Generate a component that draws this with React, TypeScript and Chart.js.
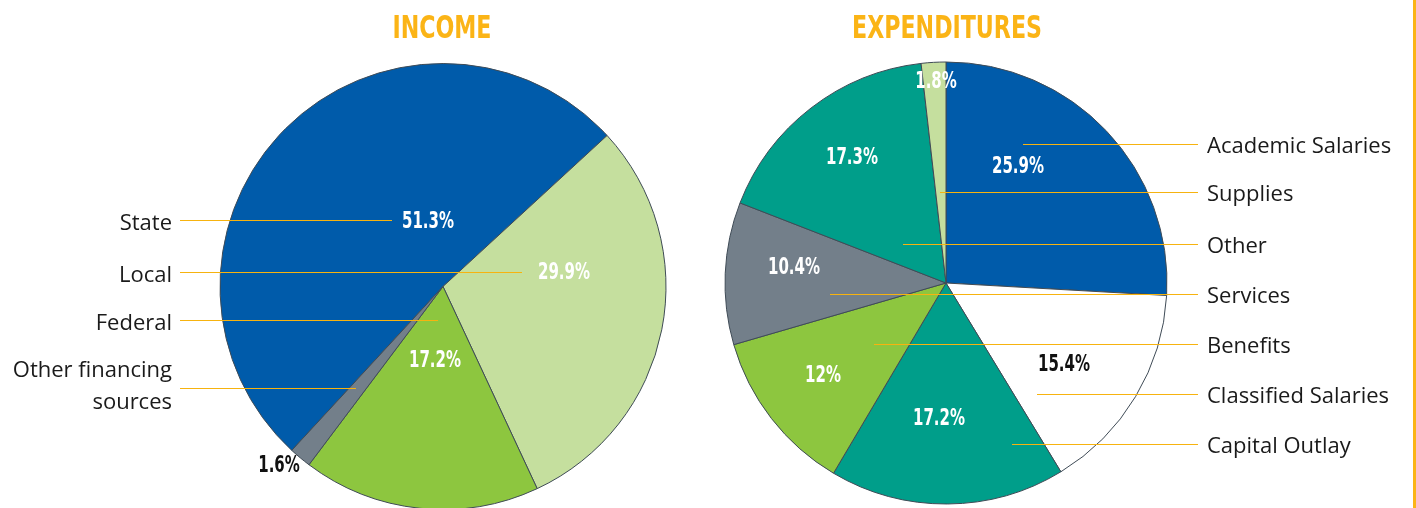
import React, { useEffect, useRef } from 'react';
import { Chart, registerables } from 'chart.js';

Chart.register(...registerables);

// ---------- DATA ----------
const incomeCategories = ['State', 'Local', 'Federal', 'Other financing sources'];
const incomeValues = [51.3, 29.9, 17.2, 1.6];
const incomePctLabels = ['51.3%', '29.9%', '17.2%', '1.6%'];

const expenditureCategories = [
  'Academic Salaries',
  'Classified Salaries',
  'Capital Outlay',
  'Benefits',
  'Services',
  'Other',
  'Supplies',
];
const expenditureValues = [25.9, 15.4, 17.2, 12, 10.4, 17.3, 1.8];
const expenditurePctLabels = ['25.9%', '15.4%', '17.2%', '12%', '10.4%', '17.3%', '1.8%'];

// ---------- STYLE / LAYOUT ----------
const W = 1416;
const H = 508;
const HALF = 708;
const BLUE = '#005BAA';
const LIGHT = '#C5DF9E';
const GREEN = '#8DC63F';
const GRAY = '#737F8A';
const TEAL = '#009E8A';
const WHITE = '#FFFFFF';
const GOLD = '#FBB416';
const LINE_GOLD = '#F7B30F';
const BORDER = '#3F4B56';

const incomeColors = [BLUE, LIGHT, GREEN, GRAY];
const expenditureColors = [BLUE, WHITE, TEAL, GREEN, GRAY, TEAL, LIGHT];

const COND = "'Liberation Sans Narrow', 'DejaVu Sans Condensed', 'DejaVu Sans', sans-serif";
const PCT_FONT = `bold 23px ${COND}`;
const TITLE_FONT = `bold 32px ${COND}`;
const CAT_FONT = "22px 'Open Sans', 'Noto Sans', sans-serif";

type Layout = {
  title: string;
  titleX: number; // absolute page x
  pct: { dx: number; dy: number; color: string }[];
  lines: { lines: string[]; y: number; endDx: number }[];
  side: 'left' | 'right';
  originX: number; // page x of this canvas's left edge
};

const incomeLayout: Layout = {
  title: 'INCOME',
  titleX: 442,
  pct: [
    { dx: -15, dy: -65, color: '#FFFFFF' },
    { dx: 121, dy: -14, color: '#FFFFFF' },
    { dx: -8, dy: 74, color: '#FFFFFF' },
    { dx: -164, dy: 179, color: '#111111' },
  ],
  lines: [
    { lines: ['State'], y: 220, endDx: -51 },
    { lines: ['Local'], y: 272, endDx: 79 },
    { lines: ['Federal'], y: 320, endDx: -5 },
    { lines: ['Other financing', 'sources'], y: 388, endDx: -87 },
  ],
  side: 'left',
  originX: 0,
};

const expenditureLayout: Layout = {
  title: 'EXPENDITURES',
  titleX: 947,
  pct: [
    { dx: 72, dy: -117, color: '#FFFFFF' },
    { dx: 118, dy: 81, color: '#111111' },
    { dx: -7, dy: 135, color: '#FFFFFF' },
    { dx: -123, dy: 92, color: '#FFFFFF' },
    { dx: -152, dy: -16, color: '#FFFFFF' },
    { dx: -94, dy: -126, color: '#FFFFFF' },
    { dx: -10, dy: -201.5, color: '#FFFFFF' },
  ],
  lines: [
    { lines: ['Academic Salaries'], y: 144, endDx: 77 },
    { lines: ['Supplies'], y: 192, endDx: -6 },
    { lines: ['Other'], y: 244, endDx: -43 },
    { lines: ['Services'], y: 294, endDx: -116 },
    { lines: ['Benefits'], y: 344, endDx: -72 },
    { lines: ['Classified Salaries'], y: 394, endDx: 91 },
    { lines: ['Capital Outlay'], y: 444, endDx: 66 },
  ],
  side: 'right',
  originX: HALF,
};

function drawScaled(
  ctx: CanvasRenderingContext2D,
  text: string,
  x: number,
  y: number,
  sx: number,
) {
  ctx.save();
  ctx.translate(x, y);
  ctx.scale(sx, 1);
  ctx.fillText(text, 0, 0);
  ctx.restore();
}

function makePlugin(layout: Layout, pctLabels: string[], drawEdge: boolean) {
  return {
    id: 'customLabels',
    afterDatasetsDraw(chart: any) {
      const ctx: CanvasRenderingContext2D = chart.ctx;
      const arc = chart.getDatasetMeta(0).data[0];
      const cx = arc.x;
      const cy = arc.y;
      const ox = layout.originX;
      ctx.save();

      // title (condensed by horizontal scaling)
      ctx.font = TITLE_FONT;
      ctx.fillStyle = GOLD;
      ctx.textAlign = 'center';
      ctx.textBaseline = 'alphabetic';
      const titleScale = 99 / ctx.measureText('INCOME').width;
      drawScaled(ctx, layout.title, layout.titleX - ox, 38, titleScale);

      // leader lines
      ctx.strokeStyle = LINE_GOLD;
      ctx.lineWidth = 1;
      layout.lines.forEach((l) => {
        const y = Math.round(l.y) + 0.5;
        ctx.beginPath();
        if (layout.side === 'left') {
          ctx.moveTo(180 - ox, y);
          ctx.lineTo(cx + l.endDx, y);
        } else {
          ctx.moveTo(cx + l.endDx, y);
          ctx.lineTo(1198 - ox, y);
        }
        ctx.stroke();
      });

      // category text
      ctx.font = CAT_FONT;
      ctx.fillStyle = '#1A1A1A';
      layout.lines.forEach((l) => {
        if (layout.side === 'left') {
          ctx.textAlign = 'right';
          if (l.lines.length === 1) {
            ctx.fillText(l.lines[0], 172 - ox, l.y + 9.5);
          } else {
            ctx.fillText(l.lines[0], 172 - ox, l.y - 11);
            ctx.fillText(l.lines[1], 172 - ox, l.y + 20.5);
          }
        } else {
          ctx.textAlign = 'left';
          ctx.fillText(l.lines[0], 1207 - ox, l.y + 9);
        }
      });

      // percentage labels
      ctx.font = PCT_FONT;
      ctx.textAlign = 'center';
      ctx.textBaseline = 'middle';
      const pctScale = 52 / ctx.measureText('29.9%').width;
      layout.pct.forEach((p, i) => {
        ctx.fillStyle = p.color;
        drawScaled(ctx, pctLabels[i], cx + p.dx, cy + p.dy + 1, pctScale);
      });

      if (drawEdge) {
        ctx.fillStyle = GOLD;
        ctx.fillRect(1413 - ox, 0, 3, H);
      }
      ctx.restore();
    },
  };
}

function PieLayer(props: {
  labels: string[];
  values: number[];
  colors: string[];
  rotation: number;
  radius: number;
  padding: { left: number; right: number; top: number; bottom: number };
  layout: Layout;
  pctLabels: string[];
  drawEdge: boolean;
  left: number;
}) {
  const ref = useRef<HTMLCanvasElement | null>(null);
  useEffect(() => {
    if (!ref.current) return;
    const chart = new Chart(ref.current, {
      type: 'pie',
      data: {
        labels: props.labels,
        datasets: [
          {
            data: props.values,
            backgroundColor: props.colors,
            borderColor: BORDER,
            borderWidth: 1,
            radius: props.radius,
          } as any,
        ],
      },
      options: {
        responsive: false,
        animation: false,
        rotation: props.rotation,
        layout: { padding: props.padding },
        plugins: {
          legend: { display: false },
          tooltip: { enabled: false },
        },
        events: [],
      },
      plugins: [makePlugin(props.layout, props.pctLabels, props.drawEdge)],
    });
    return () => chart.destroy();
  }, []);
  return (
    <div style={{ position: 'absolute', left: props.left, top: 0, width: HALF, height: H }}>
      <canvas ref={ref} width={HALF} height={H} style={{ width: HALF, height: H }} />
    </div>
  );
}

export default function App() {
  useEffect(() => {
    document.body.style.margin = '0';
  }, []);
  return (
    <div
      style={{
        position: 'absolute',
        left: 0,
        top: 0,
        width: W,
        height: H,
        overflow: 'hidden',
        background: '#FFFFFF',
      }}
    >
      <PieLayer
        left={0}
        labels={incomeCategories}
        values={incomeValues}
        colors={incomeColors}
        rotation={-137.3}
        radius={223}
        padding={{ left: 220, right: HALF - 666, top: 65, bottom: 0 }}
        layout={incomeLayout}
        pctLabels={incomePctLabels}
        drawEdge={false}
      />
      <PieLayer
        left={HALF}
        labels={expenditureCategories}
        values={expenditureValues}
        colors={expenditureColors}
        rotation={0}
        radius={221}
        padding={{ left: 725 - HALF, right: W - 1167, top: 58, bottom: 0 }}
        layout={expenditureLayout}
        pctLabels={expenditurePctLabels}
        drawEdge={true}
      />
    </div>
  );
}
